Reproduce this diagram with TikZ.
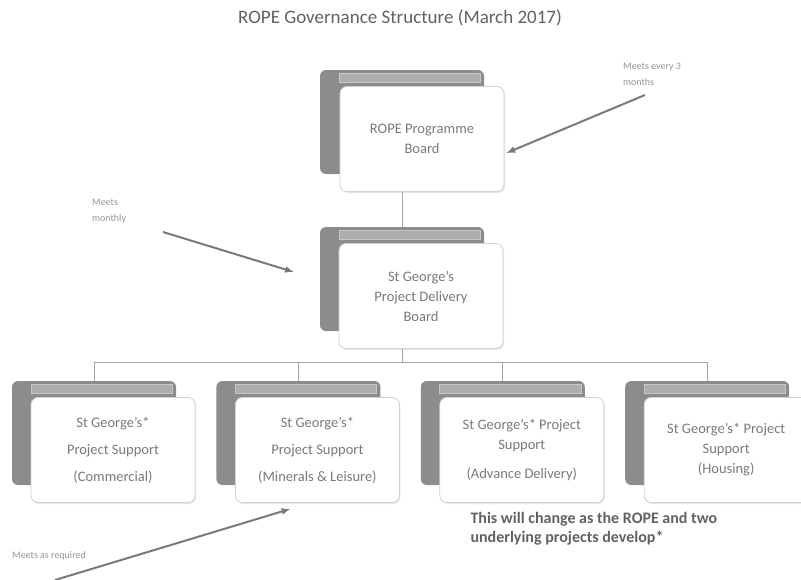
\documentclass[tikz,border=0pt]{standalone}
\usepackage{fontspec}
\setmainfont{Carlito}
\usetikzlibrary{positioning,calc,shadows,backgrounds}

\begin{document}
\begin{tikzpicture}[
  x=1pt,
  y=-1pt,
  back node/.style={
    fill=black!45,
    rounded corners=6pt,
    minimum width=164pt,
    minimum height=104pt,
  },
  board node/.style={
    draw=black!18,
    fill=white,
    line width=0.8pt,
    rounded corners=7pt,
    align=center,
    minimum width=164pt,
    minimum height=105pt,
    text=black!52,
    font=\fontsize{14.5}{20}\selectfont,
    drop shadow={shadow xshift=1pt,shadow yshift=-1.5pt,opacity=0.2},
  },
  header bar/.style={fill=black!32,draw=black!22},
  note/.style={text=black!42,align=left,inner sep=0pt,font=\fontsize{10}{16}\selectfont},
  note arrow/.style={draw=black!52,line width=2pt,-latex},
  link/.style={draw=black!35,line width=0.8pt},
  node distance=40pt,
  ]
  \useasboundingbox (0,0) rectangle (801,579);
  \node[font=\fontsize{19}{22}\selectfont,text=black!62] (title) at (400,18)
    {ROPE Governance Structure (March 2017)};
  \begin{scope}
    \node[back node] (pb-back)  at (402,122) {};
    \node[back node] (pd-back)  at (402,279) {};
    \node[back node] (ps1-back) at (94,433)  {};
    \node[back node,right=of ps1-back] (ps2-back) {};
    \node[back node,right=of ps2-back] (ps3-back) {};
    \node[back node,right=of ps3-back] (ps4-back) {};
    \foreach \n in {pb,pd,ps1,ps2,ps3,ps4}
      \path[header bar] ([shift={(19pt,-3pt)}]\n-back.north west) rectangle
      ([shift={(-4pt,-12pt)}]\n-back.north east);
  \end{scope}
  \begin{scope}[every node/.style={board node}]
    \node (pb)  at ([shift={(20pt,-17pt)}]pb-back)  {ROPE Programme\\Board};
    \node (pd)  at ([shift={(19pt,-17pt)}]pd-back)  {St George's\\Project Delivery\\Board};
    \node[font=\fontsize{14.5}{27}\selectfont] (ps1) at ([shift={(19pt,-17pt)}]ps1-back)
      {St George's*\\Project Support\\(Commercial)};
    \node[font=\fontsize{14.5}{27}\selectfont] (ps2) at ([shift={(19pt,-17pt)}]ps2-back)
      {St George's*\\Project Support\\(Minerals \& Leisure)};
    \node (ps3) at ([shift={(19pt,-17pt)}]ps3-back)
      {St George's* Project\\Support\\[9pt](Advance Delivery)};
    \node (ps4) at ([shift={(19pt,-17pt)}]ps4-back)
      {St George's* Project\\Support\\(Housing)};
  \end{scope}
  \begin{scope}[on background layer]
    \path[link] (pb-back.south) -- (pd-back.north);
    \coordinate (bus) at ($(pd-back.south)+(0,31)$);
    \foreach \n in {ps1,ps2,ps3,ps4}
      \path[link] (pd-back.south) -- (bus) -| (\n-back.north);
  \end{scope}
  \begin{scope}
    \node[note,anchor=north west] (meet-q) at (623,63) {Meets every 3\\months};
    \node[note,anchor=north west] (meet-m) at (92,199) {Meets\\monthly};
    \node[note,anchor=west]       (meet-r) at (12,556) {Meets as required};
    \coordinate (q-tail) at (645,95);
    \coordinate (m-tail) at (163,232);
    \coordinate (r-tail) at (55,580);
    \path[note arrow] (q-tail) -- ([shift={(2pt,-14pt)}]pb.east);
    \path[note arrow] (m-tail) -- ([shift={(-26pt,7pt)}]pd-back.west);
    \path[note arrow] (r-tail) -- ([shift={(-27pt,-6pt)}]ps2.south);
  \end{scope}
  \node[anchor=west,align=left,text=black!62,font=\bfseries\fontsize{16}{19}\selectfont]
    (remark) at (467,529) {This will change as the ROPE and two\\underlying projects develop*};
\end{tikzpicture}
\end{document}
